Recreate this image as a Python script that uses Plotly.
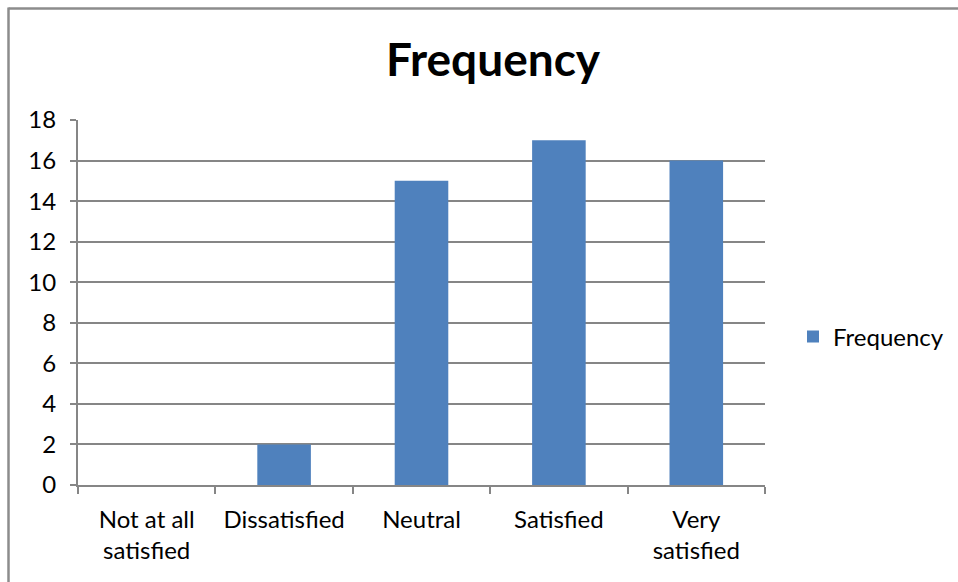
import plotly.graph_objects as go

# Survey responses: satisfaction level vs. number of respondents
categories = ["Not at all<br>satisfied", "Dissatisfied", "Neutral", "Satisfied", "Very<br>satisfied"]
frequency = [0, 2, 15, 17, 16]
y_ticks = [0, 2, 4, 6, 8, 10, 12, 14, 16, 18]

FONT = "Lato, Carlito, Calibri, 'Liberation Sans', sans-serif"
GRID = "#868686"
BAR = "#4F81BD"

W, H = 958, 582
L, R, T, B = 78, 958 - 765, 120, 582 - 485

fig = go.Figure()
fig.add_trace(go.Bar(
    x=categories,
    y=frequency,
    name="Frequency",
    marker=dict(color=BAR, line=dict(width=0)),
    showlegend=True,
))

# Outer chart frame (left and top edges visible; right/bottom run off the page)
px_x = lambda p: (p - L) / (W - L - R)
px_y = lambda p: (H - B - p) / (H - T - B)
frame = dict(color="#8C8C8C", width=2.5)
fig.add_shape(type="line", xref="paper", yref="paper",
              x0=px_x(8.5), x1=px_x(8.5), y0=px_y(7.5), y1=px_y(600), line=frame)
fig.add_shape(type="line", xref="paper", yref="paper",
              x0=px_x(8.5), x1=px_x(1000), y0=px_y(8.5), y1=px_y(8.5), line=frame)

fig.update_layout(
    width=W, height=H,
    margin=dict(l=L, r=R, t=T, b=B, autoexpand=False),
    paper_bgcolor="white",
    plot_bgcolor="white",
    bargap=0.61,
    font=dict(family=FONT, size=24, color="#000000"),
    title=dict(
        text="<b>Frequency</b>",
        x=(493 - 0) / W, xanchor="center",
        y=1 - 60 / H, yanchor="middle",
        font=dict(family=FONT, size=46, color="#000000"),
    ),
    legend=dict(
        x=px_x(793), xanchor="left",
        y=px_y(337), yanchor="middle",
        font=dict(family=FONT, size=24, color="#000000"),
        itemwidth=30,
        bgcolor="rgba(0,0,0,0)",
    ),
    xaxis=dict(
        type="category",
        tickson="boundaries",
        ticks="outside", ticklen=7, tickcolor=GRID, tickwidth=2,
        showline=True, linecolor=GRID, linewidth=2,
        showgrid=False,
        tickfont=dict(family=FONT, size=24, color="#000000"),
        ticklabelstandoff=12,
        range=[-0.5, 4.5],
    ),
    yaxis=dict(
        range=[0, 18],
        tickvals=y_ticks,
        ticks="outside", ticklen=6, tickcolor=GRID, tickwidth=2,
        showline=True, linecolor=GRID, linewidth=2,
        showgrid=True, gridcolor=GRID, gridwidth=2,
        zeroline=False,
        tickfont=dict(family=FONT, size=24, color="#000000"),
        ticklabelstandoff=9,
    ),
)

fig.write_html("out.html")
